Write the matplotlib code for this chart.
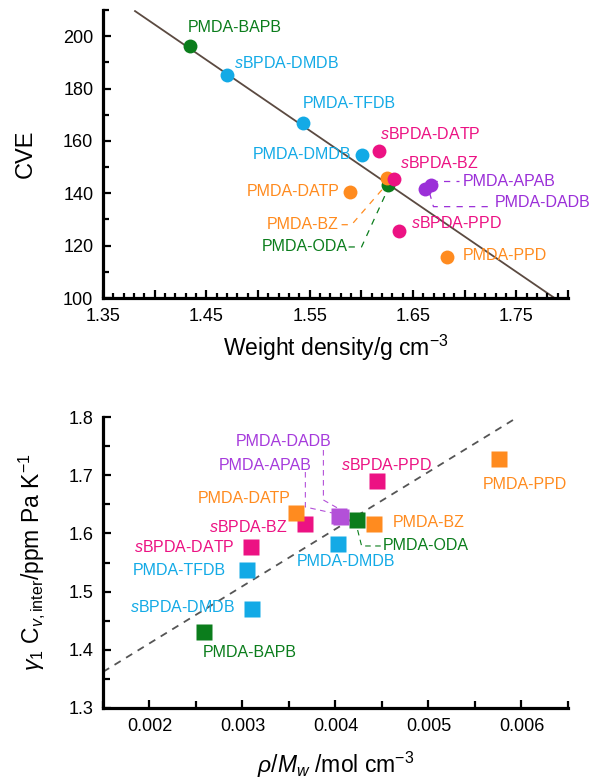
import matplotlib
matplotlib.use("Agg")
import matplotlib.pyplot as plt
from matplotlib.ticker import MultipleLocator, FuncFormatter

plt.rcParams['font.family'] = ['Liberation Sans', 'DejaVu Sans']
plt.rcParams['mathtext.fontset'] = 'custom'
plt.rcParams['mathtext.rm'] = 'Liberation Sans'
plt.rcParams['mathtext.it'] = 'Liberation Sans:italic'

# polyimide names
names = ['PMDA-BAPB', 'sBPDA-DMDB', 'PMDA-TFDB', 'PMDA-DMDB', 'sBPDA-DATP',
         'sBPDA-BZ', 'PMDA-BZ', 'PMDA-ODA', 'PMDA-DATP', 'PMDA-APAB',
         'PMDA-DADB', 'sBPDA-PPD', 'PMDA-PPD']

# top panel: weight density vs CVE
density = [1.434, 1.470, 1.544, 1.601, 1.617, 1.632, 1.625, 1.626, 1.589,
           1.667, 1.662, 1.636, 1.683]
cve = [196.2, 185.1, 166.7, 154.8, 156.0, 145.6, 146.0, 143.3, 140.6,
       143.0, 141.8, 125.7, 115.7]
fit_x = [1.381, 1.787]
fit_y = [209.6, 100.0]

# bottom panel: rho/Mw vs gamma1*Cv,inter
names_b = ['PMDA-BAPB', 'sBPDA-DMDB', 'PMDA-TFDB', 'sBPDA-DATP', 'sBPDA-BZ',
           'PMDA-BZ', 'PMDA-ODA', 'PMDA-DATP', 'PMDA-APAB', 'PMDA-DADB',
           'PMDA-DMDB', 'sBPDA-PPD', 'PMDA-PPD']
rho_mw = [0.002584, 0.00310, 0.00305, 0.00309, 0.00367, 0.00441, 0.00423,
          0.003575, 0.00404, 0.00406, 0.00403, 0.00445, 0.005762]
gamma_cv = [1.4306, 1.470, 1.537, 1.577, 1.616, 1.616, 1.623,
            1.635, 1.630, 1.628, 1.582, 1.690, 1.728]
trend_x = [0.0015, 0.00591]
trend_y = [1.362, 1.795]

green = '#0b7d1c'
cyan = '#13aae6'
orange = '#ff8b1f'
pink = '#ec1283'
purple = '#9b2fd8'
purple2 = '#b350d8'
colors = {'PMDA-BAPB': green, 'PMDA-ODA': green,
          'sBPDA-DMDB': cyan, 'PMDA-TFDB': cyan, 'PMDA-DMDB': cyan,
          'sBPDA-DATP': pink, 'sBPDA-BZ': pink, 'sBPDA-PPD': pink,
          'PMDA-BZ': orange, 'PMDA-DATP': orange, 'PMDA-PPD': orange,
          'PMDA-APAB': purple, 'PMDA-DADB': purple}


def label(n):
    # leading s is italic
    if n.startswith('s'):
        return r'$s$' + n[1:]
    return n


def style_axes(ax):
    for s in ['top', 'right']:
        ax.spines[s].set_visible(False)
    for s in ['left', 'bottom']:
        ax.spines[s].set_linewidth(2.3)
    ax.tick_params(which='both', direction='in', width=1.6, labelsize=13, pad=7)
    ax.tick_params(which='major', length=6)
    ax.tick_params(which='minor', length=4)


fig = plt.figure(figsize=(5.96, 7.83), dpi=100)

# ---------------- top panel ----------------
ax1 = fig.add_axes([0.1728, 0.6194, 0.7802, 0.3678])
ax1.plot(fit_x, fit_y, color='#5b4a41', lw=1.3, zorder=1)
draw_order = ['PMDA-BAPB', 'sBPDA-DMDB', 'PMDA-TFDB', 'PMDA-DMDB', 'sBPDA-DATP',
              'PMDA-ODA', 'PMDA-BZ', 'sBPDA-BZ', 'PMDA-DATP', 'PMDA-DADB',
              'PMDA-APAB', 'sBPDA-PPD', 'PMDA-PPD']
for n in draw_order:
    i = names.index(n)
    ax1.plot(density[i], cve[i], 'o', ms=10, color=colors[n], mec='none', zorder=2)

top_labels = {
    'PMDA-BAPB': (1.4775, 203.4, 'center'),
    'sBPDA-DMDB': (1.4766, 189.7, 'left'),
    'PMDA-TFDB': (1.5432, 174.3, 'left'),
    'PMDA-DMDB': (1.5900, 154.8, 'right'),
    'sBPDA-DATP': (1.6176, 162.5, 'left'),
    'sBPDA-BZ': (1.6370, 151.7, 'left'),
    'PMDA-APAB': (1.6978, 144.4, 'left'),
    'PMDA-DADB': (1.7288, 136.4, 'left'),
    'PMDA-DATP': (1.5790, 140.6, 'right'),
    'PMDA-BZ': (1.5780, 128.0, 'right'),
    'PMDA-ODA': (1.5865, 119.5, 'right'),
    'sBPDA-PPD': (1.6476, 128.7, 'left'),
    'PMDA-PPD': (1.6978, 116.1, 'left'),
}
for n, (tx, ty, ha) in top_labels.items():
    ax1.text(tx, ty, label(n), color=colors[n], fontsize=11.5, ha=ha, va='center')

top_leaders = {
    'PMDA-APAB': ([1.6679, 1.6949], [144.8, 144.8]),
    'PMDA-DADB': ([1.666, 1.6698, 1.7268], [140.2, 134.9, 134.9]),
    'PMDA-BZ': ([1.5809, 1.5906, 1.6225], [128.0, 128.0, 142.5]),
    'PMDA-ODA': ([1.5877, 1.6002, 1.6263], [119.5, 119.5, 142.1]),
}
for n, (lx, ly) in top_leaders.items():
    ax1.plot(lx, ly, ls=(0, (5, 5)), lw=0.9, color=colors[n], zorder=1)

ax1.set_xlim(1.35, 1.80)
ax1.set_ylim(100, 210)
ax1.xaxis.set_major_locator(MultipleLocator(0.05))
ax1.xaxis.set_minor_locator(MultipleLocator(0.01))
ax1.xaxis.set_major_formatter(FuncFormatter(
    lambda v, p: '%.2f' % v if round(v * 100) % 10 == 5 else ''))
ax1.yaxis.set_major_locator(MultipleLocator(20))
ax1.yaxis.set_minor_locator(MultipleLocator(10))
style_axes(ax1)
ax1.tick_params(axis='x', which='minor', length=3.5)
ax1.set_xlabel('Weight density/g cm$^{-3}$', fontsize=16.5, labelpad=6)
ax1.set_ylabel('CVE', fontsize=17, labelpad=19)

# ---------------- bottom panel ----------------
ax2 = fig.add_axes([0.1728, 0.0958, 0.7802, 0.3716])
ax2.plot(trend_x, trend_y, ls=(0, (4, 3.5)), color='#555555', lw=1.3, zorder=1)
colors_b = dict(colors)
colors_b['PMDA-APAB'] = purple2
colors_b['PMDA-DADB'] = purple2
for i, n in enumerate(names_b):
    ax2.plot(rho_mw[i], gamma_cv[i], 's', ms=11.5, color=colors_b[n], mec='none', zorder=2)

bot_labels = {
    'PMDA-DADB': (0.003438, 1.7588, 'center'),
    'PMDA-APAB': (0.003243, 1.7175, 'center'),
    'sBPDA-PPD': (0.004551, 1.7175, 'center'),
    'PMDA-DATP': (0.003016, 1.6608, 'center'),
    'sBPDA-BZ': (0.003059, 1.6110, 'center'),
    'sBPDA-DATP': (0.002378, 1.5766, 'center'),
    'PMDA-TFDB': (0.002324, 1.5371, 'center'),
    'sBPDA-DMDB': (0.002357, 1.4735, 'center'),
    'PMDA-BAPB': (0.003081, 1.3945, 'center'),
    'PMDA-DMDB': (0.004108, 1.5509, 'center'),
    'PMDA-ODA': (0.004508, 1.5784, 'left'),
    'PMDA-BZ': (0.004616, 1.6179, 'left'),
    'PMDA-PPD': (0.006032, 1.6849, 'center'),
}
for n, (tx, ty, ha) in bot_labels.items():
    c = colors_b[n] if n not in ('PMDA-APAB', 'PMDA-DADB') else '#a63bdc'
    ax2.text(tx, ty, label(n), color=c, fontsize=11.5, ha=ha, va='center')

bot_leaders = {
    'PMDA-DADB': ([0.003870, 0.003870, 0.004022], [1.7433, 1.6574, 1.6436]),
    'PMDA-APAB': ([0.003676, 0.003676, 0.003968], [1.7055, 1.6454, 1.6351]),
    'PMDA-ODA': ([0.004238, 0.004281, 0.004497], [1.6058, 1.5784, 1.5784]),
}
for n, (lx, ly) in bot_leaders.items():
    ax2.plot(lx, ly, ls=(0, (5, 4)), lw=0.8, color=colors_b[n], zorder=1)

ax2.set_xlim(0.0015, 0.0065)
ax2.set_ylim(1.3, 1.8)
ax2.xaxis.set_major_locator(MultipleLocator(0.001))
ax2.xaxis.set_minor_locator(MultipleLocator(0.0005))
ax2.yaxis.set_major_locator(MultipleLocator(0.1))
ax2.yaxis.set_minor_locator(MultipleLocator(0.05))
style_axes(ax2)
ax2.tick_params(which='minor', length=5)
ax2.set_xlabel(r'$\rho/M_w$ /mol cm$^{-3}$', fontsize=16.5, labelpad=11)
ax2.set_ylabel(r'$\gamma_1$ C$_{v,\mathrm{inter}}$/ppm Pa K$^{-1}$', fontsize=16.5, labelpad=15)

fig.savefig('out.png', dpi=100)
